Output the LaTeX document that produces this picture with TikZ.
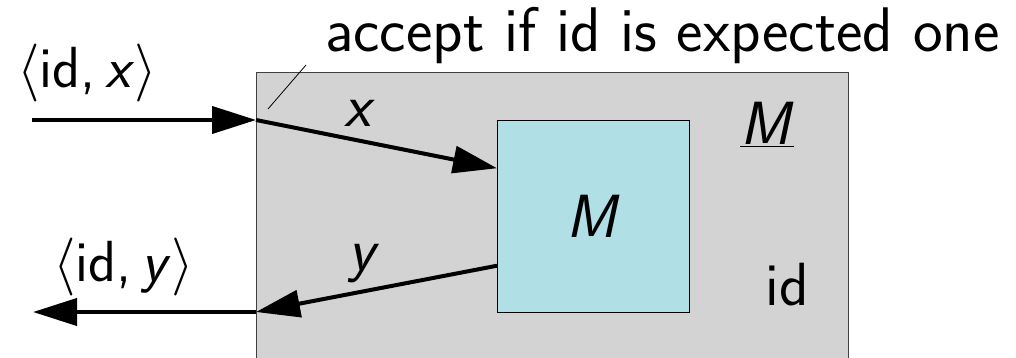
\RequirePackage{fix-cm}
\documentclass[tikz,border=0pt]{standalone}
\usetikzlibrary{arrows.meta,calc}
\renewcommand{\familydefault}{\sfdefault}
\definecolor{boxgray}{HTML}{D3D3D3}
\definecolor{boxcyan}{HTML}{B0DFE5}
\newcommand{\vx}{\textsl{x}}
\newcommand{\vy}{\textsl{y}}
\newcommand{\vM}{\textsl{M}}
\begin{document}
\begin{tikzpicture}[x=1pt,y=-1pt,
  smalltext/.style={font=\fontsize{58}{70}\selectfont, inner sep=0pt},
  toptext/.style={font=\fontsize{63}{74}\selectfont, inner sep=0pt},
  bigtext/.style={font=\fontsize{61}{72}\selectfont, inner sep=0pt},
  flow/.style={line width=4pt, -{Triangle[length=44pt,width=27pt]}},
  leader/.style={line width=0.8pt}]
\clip (0,0) rectangle (1016,358);
\node[draw=black!75, line width=1pt, fill=boxgray, minimum width=592pt, minimum height=320pt, inner sep=0pt, anchor=north west] (outer) at (256,72) {};
\node[draw=black, line width=1pt, fill=boxcyan, minimum width=192pt, minimum height=192pt, inner sep=0pt, anchor=north west] (inner) at (497,120) {};
\node[bigtext] (Mlabel) at (593,216) {\vM};
\coordinate (inA) at (256,120);
\coordinate (outA) at (256,312);
\coordinate (inStart) at (32,120);
\coordinate (outEnd) at (33,312);
\coordinate (mIn) at ($(inner.north west)!0.25!(inner.south west)$);
\coordinate (mOut) at ($(inner.north west)!0.755!(inner.south west)$);
\draw[flow] (inStart) -- (inA);
\draw[flow] (inA) -- (mIn);
\draw[flow] (mOut) -- (outA);
\draw[flow] (outA) -- (outEnd);
\node[toptext, anchor=base west] (acc) at (325,52) {accept if id is expected one};
\coordinate (leadEnd) at (268,109);
\draw[leader] (leadEnd) -- (306,65);
\node[smalltext, anchor=base west] (idx) at (17,88) {$\langle$id,\,\vx$\rangle$};
\node[smalltext, anchor=base west] (idy) at (53,281) {$\langle$id,\,\vy$\rangle$};
\node[bigtext, anchor=base] (xl) at (360,127) {\vx};
\node[bigtext, anchor=base] (yl) at (364,270) {\vy};
\node[bigtext, anchor=base] (Mu) at (767,145) {\underline{\vM}};
\node[bigtext, anchor=base] (idr) at (787,305) {id};
\end{tikzpicture}
\end{document}
